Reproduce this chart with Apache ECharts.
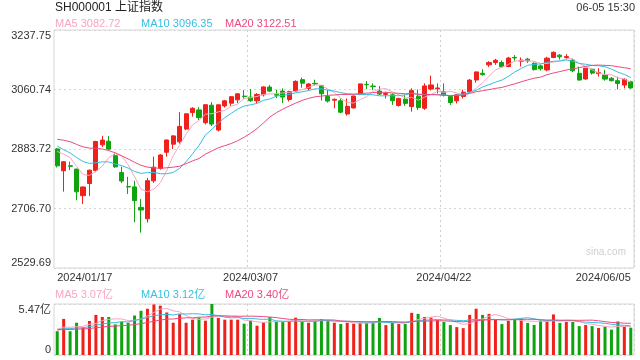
<!DOCTYPE html>
<html><head><meta charset="utf-8">
<script src="https://cdn.jsdelivr.net/npm/echarts/dist/echarts.min.js"></script>
<style>html,body{margin:0;padding:0;background:#fff}#c{width:640px;height:360px}</style>
</head><body><div id="c"></div>
<script>
const dates = ['2024/01/17','2024/01/18','2024/01/19','2024/01/22','2024/01/23','2024/01/24','2024/01/25','2024/01/26','2024/01/29','2024/01/30',
'2024/01/31','2024/02/01','2024/02/02','2024/02/05','2024/02/06','2024/02/07','2024/02/08','2024/02/19','2024/02/20','2024/02/21',
'2024/02/22','2024/02/23','2024/02/26','2024/02/27','2024/02/28','2024/02/29','2024/03/01','2024/03/04','2024/03/05','2024/03/06',
'2024/03/07','2024/03/08','2024/03/11','2024/03/12','2024/03/13','2024/03/14','2024/03/15','2024/03/18','2024/03/19','2024/03/20',
'2024/03/21','2024/03/22','2024/03/25','2024/03/26','2024/03/27','2024/03/28','2024/03/29','2024/04/01','2024/04/02','2024/04/03',
'2024/04/08','2024/04/09','2024/04/10','2024/04/11','2024/04/12','2024/04/15','2024/04/16','2024/04/17','2024/04/18','2024/04/19',
'2024/04/22','2024/04/23','2024/04/24','2024/04/25','2024/04/26','2024/04/29','2024/04/30','2024/05/06','2024/05/07','2024/05/08',
'2024/05/09','2024/05/10','2024/05/13','2024/05/14','2024/05/15','2024/05/16','2024/05/17','2024/05/20','2024/05/21','2024/05/22',
'2024/05/23','2024/05/24','2024/05/27','2024/05/28','2024/05/29','2024/05/30','2024/05/31','2024/06/03','2024/06/04','2024/06/05'];

const opens = [2884,2819,2834,2824,2745,2781,2820,2896,2907,2864,
2814,2772,2771,2710,2676,2789,2826,2874,2898,2905,
2943,2992,3000,2962,3014,2940,3012,3020,3030,3041,
3038,3027,3045,3068,3046,3056,3031,3056,3090,3064,
3079,3072,3040,3029,3027,2988,3006,3047,3076,3071,
3056,3046,3045,3013,3032,3010,3041,3005,3062,3063,
3054,3040,3027,3040,3054,3089,3109,3134,3141,3141,
3129,3156,3145,3151,3139,3131,3119,3156,3163,3156,
3148,3109,3092,3121,3108,3104,3094,3087,3074,3084];

const closes = [2833.62,2845.78,2832.28,2756.34,2770.74,2820.77,2906.11,2910.22,2883.36,2830.53,
2788.55,2770.98,2730.15,2702.19,2789.49,2829.70,2865.90,2910.54,2922.73,2950.96,
2988.36,3004.88,2977.02,3015.48,2957.85,3015.17,3027.02,3039.31,3047.79,3039.93,
3027.40,3046.02,3068.46,3055.94,3043.83,3038.23,3054.64,3084.93,3079.69,3077.11,
3077.38,3048.03,3026.31,3031.48,2993.14,3010.66,3041.17,3077.38,3074.96,3069.30,
3047.05,3048.54,3027.34,3034.25,3019.47,3057.38,3007.07,3071.38,3074.22,3065.26,
3044.60,3021.98,3044.82,3052.90,3088.64,3113.04,3104.82,3140.72,3147.74,3128.48,
3154.32,3154.55,3148.02,3145.77,3119.90,3122.40,3154.03,3171.15,3157.97,3158.54,
3116.39,3088.87,3124.04,3109.57,3111.02,3091.68,3086.81,3078.49,3091.20,3065.40];

const lows = [2829,2757,2821,2731,2720,2744,2815,2890,2881,2828,
2782,2750,2666,2635,2665,2783,2822,2861,2884,2900,
2940,2980,2970,2957,2952,2936,3007,3012,3020,3033,
3024,3020,3040,3053,3035,3020,3025,3054,3066,3058,
3072,3028,3022,3005,2990,2983,3004,3044,3062,3059,
3044,3034,3015,3010,3012,2995,3000,3000,3058,3049,
3040,3015,3019,3034,3051,3081,3102,3128,3134,3126,
3127,3146,3129,3140,3117,3117,3115,3154,3150,3150,
3112,3087,3090,3105,3099,3087,3085,3061,3064,3063];

const highs = [2887,2847,2846,2825,2772,2822,2908,2923,2922,2871,
2831,2801,2789,2735,2798,2861,2868,2912,2925,2993,
2990,3008,3008,3016,3023,3016,3030,3041,3050,3059,
3062,3050,3070,3074,3060,3064,3057,3088,3096,3080,
3090,3074,3060,3034,3034,3034,3043,3078,3086,3079,
3071,3054,3049,3036,3044,3064,3061,3079,3102,3079,
3079,3042,3046,3060,3092,3114,3121,3145,3152,3147,
3158,3163,3156,3155,3141,3135,3158,3174.27,3166,3166,
3153,3129,3125,3123,3124,3119,3098,3099,3094,3087];

// volume in 亿
const volumes = [2.55,3.87,2.55,3.46,2.95,3.65,4.30,4.08,4.08,3.28,
3.57,3.46,4.23,4.74,4.96,5.42,5.29,4.56,3.46,4.38,
3.46,3.79,4.01,3.68,5.47,3.98,3.79,3.79,3.79,3.36,
3.68,3.14,3.50,4.05,3.57,3.57,3.57,4.01,3.61,3.46,
3.65,3.83,3.76,3.46,3.32,3.46,3.36,3.46,3.46,3.46,
3.98,3.21,3.46,3.32,3.32,4.52,4.41,4.08,4.01,3.76,
3.54,3.21,2.99,2.88,4.30,4.96,4.30,4.41,3.76,3.32,
3.66,3.88,3.88,3.44,3.22,3.69,3.69,4.35,3.44,3.55,
3.54,3.10,3.21,3.10,2.90,3.05,2.72,3.60,3.05,2.93];

// sessions before the first shown day (needed for moving averages)
const preCloses = [2902.11,2918.71,2914.78,2918.81,2898.87,2914.61,2954.70,2974.93,2962.28,2967.25,
2954.35,2929.18,2887.54,2893.25,2877.70,2886.65,2881.98,2886.29,2893.99];
const preVolumes = [2.62,2.70,2.55,2.68,2.74,2.60,2.58,2.66,2.71,2.63,2.80,2.52,2.75,2.68,2.59,2.77,2.64,3.05,2.82];

const priceTickLabels = ['2529.69','2706.70','2883.72','3060.74','3237.75'];
const priceMin = 2529.69, priceMax = 3237.75;
const volTickLabels = ['0','5.47亿'];
const xLabelIndexes = [0,30,60,89];
const xSplitIndexes = [30,60];
const titleText = 'SH000001 上证指数';
const timeText = '06-05 15:30';
const watermark = 'sina.com';

const RED = '#f0201a', GREEN = '#10a310';
const C5 = '#f8a5c2', C10 = '#36bfe0', C20 = '#ee4a7e';
const FONT = '"Liberation Sans", Arial, "Noto Sans CJK SC", sans-serif';

function ma(pre, arr, n) {
  const all = pre.concat(arr);
  return arr.map((_, i) => {
    const j = i + pre.length; let s = 0;
    for (let k = j - n + 1; k <= j; k++) s += all[k];
    return +(s / n).toFixed(3);
  });
}
const ma5 = ma(preCloses, closes, 5), ma10 = ma(preCloses, closes, 10), ma20 = ma(preCloses, closes, 20);
const vma5 = ma(preVolumes, volumes, 5), vma10 = ma(preVolumes, volumes, 10), vma20 = ma(preVolumes, volumes, 20);
const last = a => a[a.length - 1];

const candle = dates.map((d, i) => [opens[i], closes[i], lows[i], highs[i]]);
const volData = volumes.map((v, i) => ({ value: v, itemStyle: { color: closes[i] >= opens[i] ? RED : GREEN } }));

function nearestPriceLabel(v) {
  let best = 0, bd = Infinity;
  priceTickLabels.forEach((t, i) => { const d = Math.abs(parseFloat(t) - v); if (d < bd) { bd = d; best = i; } });
  return priceTickLabels[best];
}

const chart = echarts.init(document.getElementById('c'), null, { renderer: 'canvas' });
const splitX = { show: true, interval: (i) => xSplitIndexes.includes(i), lineStyle: { color: '#cfcfcf', type: [2, 3], width: 1 } };
const lineS = (name, data, color, xi, yi) => ({ name, type: 'line', data, xAxisIndex: xi, yAxisIndex: yi, symbol: 'none', smooth: false,
  lineStyle: { color, width: 1 }, itemStyle: { color }, z: 3 });
const txt = (x, y, text, color, size, align) => ({ type: 'text', x, y, silent: true,
  style: { text, fill: color, font: size + 'px ' + FONT, align: align || 'left', verticalAlign: 'middle' } });

chart.setOption({
  animation: false,
  backgroundColor: '#fff',
  textStyle: { fontFamily: FONT },
  grid: [
    { left: 54, right: 6, top: 30, height: 238, show: true, borderColor: '#d6d6d6', borderWidth: 1 },
    { left: 54, right: 6, top: 304, height: 51, show: true, borderColor: '#d6d6d6', borderWidth: 1 }
  ],
  xAxis: [
    { type: 'category', gridIndex: 0, data: dates, boundaryGap: true,
      axisLine: { show: false }, axisTick: { show: false },
      axisLabel: { interval: (i) => xLabelIndexes.includes(i), color: '#333', fontSize: 11, margin: 4, fontFamily: FONT,
        alignMinLabel: 'left', alignMaxLabel: 'right' },
      splitLine: splitX },
    { type: 'category', gridIndex: 1, data: dates, boundaryGap: true,
      axisLine: { show: false }, axisTick: { show: false }, axisLabel: { show: false },
      splitLine: splitX }
  ],
  yAxis: [
    { type: 'value', gridIndex: 0, min: priceMin, max: priceMax, interval: (priceMax - priceMin) / 4,
      axisLine: { show: false }, axisTick: { show: false },
      axisLabel: { color: '#333', fontSize: 11, margin: 3, fontFamily: FONT, formatter: nearestPriceLabel,
        verticalAlignMinLabel: 'bottom', verticalAlignMaxLabel: 'top' },
      splitLine: { lineStyle: { color: '#d6d6d6', type: [2, 3] } } },
    { type: 'value', gridIndex: 1, min: 0, max: Math.max(...volumes), interval: Math.max(...volumes),
      axisLine: { show: false }, axisTick: { show: false },
      axisLabel: { color: '#333', fontSize: 11, margin: 3, fontFamily: FONT,
        formatter: v => v < 1e-6 ? volTickLabels[0] : volTickLabels[1],
        verticalAlignMinLabel: 'bottom', verticalAlignMaxLabel: 'top' },
      splitLine: { lineStyle: { color: '#d6d6d6', type: [2, 3] } } }
  ],
  series: [
    { name: 'K', type: 'candlestick', data: candle, xAxisIndex: 0, yAxisIndex: 0, barWidth: '70%',
      itemStyle: { color: RED, color0: GREEN, borderColor: RED, borderColor0: GREEN, borderWidth: 1 } },
    lineS('MA5', ma5, C5, 0, 0), lineS('MA10', ma10, C10, 0, 0), lineS('MA20', ma20, C20, 0, 0),
    { name: 'VOL', type: 'bar', data: volData, xAxisIndex: 1, yAxisIndex: 1, barWidth: 3 },
    lineS('VMA5', vma5, C5, 1, 1), lineS('VMA10', vma10, C10, 1, 1), lineS('VMA20', vma20, C20, 1, 1)
  ],
  graphic: [
    txt(55, 8, titleText, '#222', 12),
    txt(635, 8, timeText, '#333', 11, 'right'),
    txt(55, 24, 'MA5 ' + last(ma5).toFixed(2), C5, 11),
    txt(141, 24, 'MA10 ' + last(ma10).toFixed(2), C10, 11),
    txt(225, 24, 'MA20 ' + last(ma20).toFixed(2), C20, 11),
    txt(55, 295, 'MA5 ' + last(vma5).toFixed(2) + '亿', C5, 11),
    txt(141, 295, 'MA10 ' + last(vma10).toFixed(2) + '亿', C10, 11),
    txt(225, 295, 'MA20 ' + last(vma20).toFixed(2) + '亿', C20, 11),
    txt(626, 252, watermark, '#cfcfcf', 10, 'right')
  ]
});
</script></body></html>
